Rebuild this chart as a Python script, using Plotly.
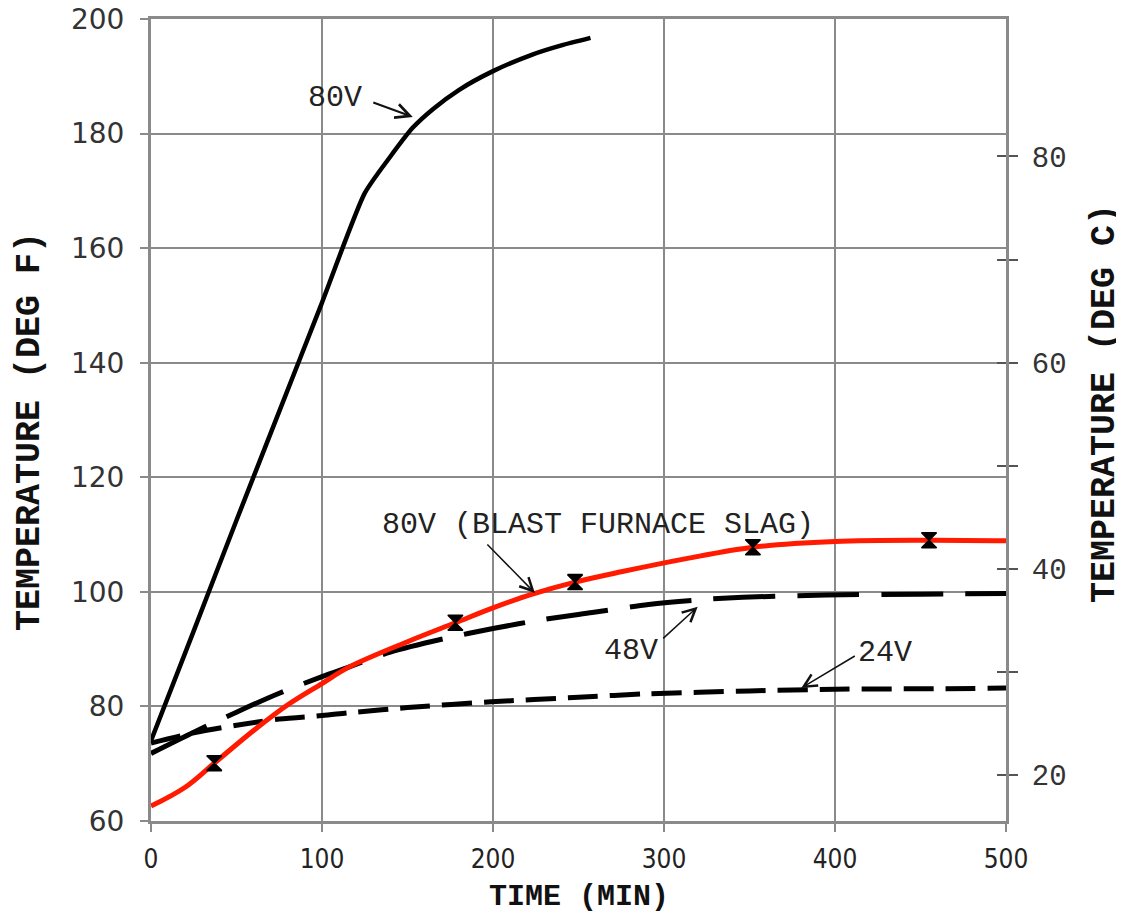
import plotly.graph_objects as go

# ---- data (time in minutes, temperature in deg F) ----
t_80v = [0, 25, 50, 75, 100, 125, 140, 153, 165, 180, 200, 223, 240, 257]
f_80v = [74, 93.2, 112.5, 131.5, 150.5, 169.6, 176.0, 181.0, 184.3, 187.6, 190.9, 193.8, 195.4, 196.7]

t_slag = [0, 20, 37, 60, 80, 100, 116, 150, 178, 200, 223, 248, 275, 313, 352, 400, 455, 500]
f_slag = [62.6, 65.9, 70.1, 75.8, 80.3, 84.0, 86.9, 91.3, 94.6, 97.2, 99.6, 101.7, 103.5, 105.8, 107.8, 108.8, 109.0, 108.9]

t_slag_pts = [37, 178, 248, 352, 455]
f_slag_pts = [70.1, 94.6, 101.7, 107.8, 109.0]

t_48v = [0, 25, 50, 75, 100, 116, 140, 171, 200, 230, 258, 291, 320, 346, 395, 450, 500]
f_48v = [71.8, 75.5, 79.0, 82.3, 85.2, 86.9, 89.5, 91.8, 93.6, 95.2, 96.4, 97.8, 98.6, 99.05, 99.45, 99.6, 99.7]

t_24v = [0, 25, 50, 75, 100, 116, 150, 199, 250, 290, 350, 400, 464, 500]
f_24v = [73.6, 75.4, 76.7, 77.8, 78.4, 78.9, 79.8, 80.8, 81.6, 82.2, 82.7, 83.0, 83.1, 83.2]

x_ticks = [0, 100, 200, 300, 400, 500]
yf_ticks = [60, 80, 100, 120, 140, 160, 180, 200]
yc_ticks = [20, 30, 40, 50, 60, 70, 80]
yc_text = ["20", "", "40", "", "60", "", "80"]

F_RANGE = [60, 200]
C_RANGE = [(F_RANGE[0] - 32) / 1.8, (F_RANGE[1] - 32) / 1.8]

GRID = "#8a8a8a"
AX = "#8a8a8a"
MONO = "Liberation Mono, Courier New, monospace"

fig = go.Figure()

fig.add_trace(go.Scatter(x=t_24v, y=f_24v, mode="lines",
                         line=dict(color="black", width=5, dash="30px,12px", shape="spline", smoothing=0.8),
                         hoverinfo="skip"))
fig.add_trace(go.Scatter(x=t_48v, y=f_48v, mode="lines",
                         line=dict(color="black", width=5, dash="62px,22px", shape="spline", smoothing=0.8),
                         hoverinfo="skip"))
fig.add_trace(go.Scatter(x=t_slag, y=f_slag, mode="lines",
                         line=dict(color="#ff1a00", width=5, shape="spline", smoothing=1.0),
                         hoverinfo="skip"))
fig.add_trace(go.Scatter(x=t_80v, y=f_80v, mode="lines",
                         line=dict(color="black", width=4.5, shape="spline", smoothing=0.6),
                         hoverinfo="skip"))
fig.add_trace(go.Scatter(x=t_slag_pts, y=f_slag_pts, mode="markers",
                         marker=dict(symbol="hourglass", size=15, color="black",
                                     line=dict(color="black", width=1.5)),
                         hoverinfo="skip"))
# carriers for the right-hand (deg C) axes
fig.add_trace(go.Scatter(x=[None], y=[None], yaxis="y2", showlegend=False, hoverinfo="skip"))
fig.add_trace(go.Scatter(x=[None], y=[None], yaxis="y3", showlegend=False, hoverinfo="skip"))

fig.update_layout(
    width=1116, height=908,
    margin=dict(l=143, r=118, t=11, b=95, autoexpand=False),
    paper_bgcolor="white", plot_bgcolor="white",
    showlegend=False,
    xaxis=dict(range=[0, 500], tickvals=x_ticks, showgrid=True, gridcolor=GRID, gridwidth=2,
               zeroline=False, showline=True, mirror=True, linecolor=AX, linewidth=3, automargin=False,
               ticks="outside", ticklen=8, tickcolor=AX, tickwidth=2,
               ticklabelstandoff=5, ticklabeloverflow="allow",
               tickfont=dict(family="Liberation Sans Narrow, DejaVu Sans Condensed, DejaVu Sans Mono",
                             size=26, color="#222")),
    yaxis=dict(range=F_RANGE, tickvals=yf_ticks, showgrid=True, gridcolor=GRID, gridwidth=2,
               zeroline=False, showline=True, linecolor=AX, linewidth=3, automargin=False,
               ticks="outside", ticklen=8, tickcolor=AX, tickwidth=2,
               ticklabelstandoff=10, ticklabeloverflow="allow",
               tickfont=dict(family="DejaVu Sans", size=28, color="#333")),
    yaxis2=dict(range=C_RANGE, overlaying="y", side="right", anchor="x", automargin=False,
                tickvals=yc_ticks, ticktext=yc_text, showgrid=False, zeroline=False,
                showline=True, linecolor=AX, linewidth=3,
                ticks="outside", ticklen=9, tickcolor="#555", tickwidth=2,
                ticklabelstandoff=8, ticklabeloverflow="allow",
                tickfont=dict(family=MONO, size=29, color="#333")),
    yaxis3=dict(range=C_RANGE, overlaying="y", side="right", anchor="x", automargin=False,
                tickvals=yc_ticks, showticklabels=False, showgrid=False, zeroline=False,
                showline=False, ticks="inside", ticklen=9, tickcolor="#555", tickwidth=2),
)

ann_font = dict(family=MONO, size=30, color="#222")
title_font = dict(family=MONO, size=35, color="#111")

annotations = [
    # axis titles
    dict(text="<b>TIME (MIN)</b>", xref="paper", yref="paper", x=0.5, y=0, yshift=-76,
         showarrow=False, font=dict(family=MONO, size=30, color="#111"), xanchor="center", yanchor="middle"),
    dict(text="<b>TEMPERATURE (DEG F)</b>", xref="paper", yref="paper", x=0, xshift=-121, y=0.485,
         textangle=-90, showarrow=False, font=title_font, xanchor="center", yanchor="middle"),
    dict(text="<b>TEMPERATURE (DEG C)</b>", xref="paper", yref="paper", x=1, xshift=99, y=0.52,
         textangle=-90, showarrow=False, font=title_font, xanchor="center", yanchor="middle"),
    # curve labels
    dict(text="80V", x=107.5, y=186.2, showarrow=False, font=ann_font),
    dict(text="80V (BLAST FURNACE SLAG)", x=261.2, y=111.7, showarrow=False, font=ann_font),
    dict(text="48V", x=280.9, y=89.6, showarrow=False, font=ann_font),
    dict(text="24V", x=429, y=89.3, showarrow=False, font=ann_font),
    # arrows
    dict(text="", x=153.1, y=182.9, ax=-41, ay=-15, showarrow=True, arrowhead=5,
         arrowsize=1.4, arrowwidth=2, arrowcolor="#111"),
    dict(text="", x=224.5, y=99.8, ax=-49, ay=-50, showarrow=True, arrowhead=5,
         arrowsize=1.7, arrowwidth=1.5, arrowcolor="#111"),
    dict(text="", x=319.7, y=97.4, ax=-36, ay=33, showarrow=True, arrowhead=5,
         arrowsize=1.7, arrowwidth=1.5, arrowcolor="#111"),
    dict(text="", x=380.3, y=83.2, ax=55, ay=-33, showarrow=True, arrowhead=5,
         arrowsize=1.7, arrowwidth=1.5, arrowcolor="#111"),
]
fig.update_layout(annotations=annotations)

fig.write_html("out.html")
